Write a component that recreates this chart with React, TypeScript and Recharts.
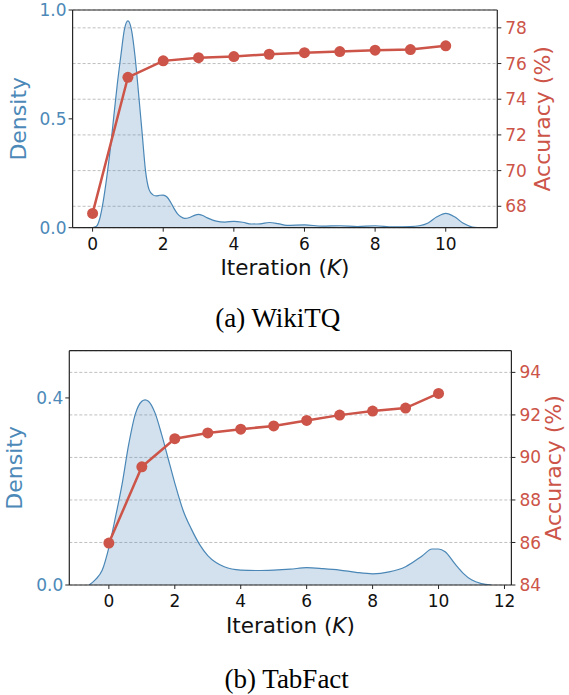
import React from 'react';
import {
  ComposedChart,
  Area,
  Line,
  XAxis,
  YAxis,
  CartesianGrid,
  ReferenceLine,
} from 'recharts';

// iterations shared by both panels
const iterations = [0, 1, 2, 3, 4, 5, 6, 7, 8, 9, 10];

// (a) WikiTQ
const wikiK = [
  0, 0.1, 0.2, 0.3, 0.4, 0.5, 0.6, 0.7, 0.8, 0.9, 1, 1.1, 1.2, 1.3, 1.4, 1.5, 1.6, 1.7, 1.8, 1.9,
  2, 2.1, 2.2, 2.3, 2.4, 2.5, 2.6, 2.75, 2.9, 3, 3.1, 3.25, 3.5, 3.75, 4, 4.25, 4.5, 4.75, 5,
  5.25, 5.5, 6, 6.5, 7, 7.5, 8, 8.5, 9, 9.25, 9.5, 9.75, 10, 10.25, 10.5, 10.75, 10.9,
];
const wikiDensity = [
  0, 0.005, 0.04, 0.12, 0.23, 0.36, 0.51, 0.66, 0.79, 0.91, 0.95, 0.91, 0.79, 0.62, 0.44, 0.26,
  0.175, 0.152, 0.146, 0.149, 0.15, 0.142, 0.12, 0.09, 0.065, 0.05, 0.043, 0.047, 0.058, 0.061,
  0.057, 0.045, 0.03, 0.026, 0.029, 0.025, 0.017, 0.018, 0.024, 0.019, 0.011, 0.013, 0.007,
  0.009, 0.005, 0.009, 0.004, 0.005, 0.009, 0.022, 0.05, 0.066, 0.05, 0.02, 0.003, 0,
];
const wikiAccuracy = [67.6, 75.23, 76.15, 76.33, 76.39, 76.52, 76.61, 76.67, 76.75, 76.78, 76.99];
const wikiAccTicks = [68, 70, 72, 74, 76, 78];
const wikiDensTicks = [0, 0.5, 1.0];
const wikiXTicks = [0, 2, 4, 6, 8, 10];

// (b) TabFact
const tabK = [
  -0.6, -0.4, -0.2, 0, 0.2, 0.4, 0.6, 0.8, 1, 1.1, 1.2, 1.4, 1.6, 1.8, 2, 2.25, 2.5, 2.75, 3,
  3.25, 3.5, 4, 4.5, 5, 5.5, 6, 6.5, 7, 7.5, 8, 8.5, 9, 9.5, 9.8, 10, 10.2, 10.5, 10.75, 11,
  11.3, 11.6,
];
const tabDensity = [
  0, 0.012, 0.032, 0.08, 0.145, 0.215, 0.3, 0.365, 0.393, 0.396, 0.393, 0.368, 0.322, 0.27,
  0.218, 0.16, 0.12, 0.087, 0.063, 0.048, 0.039, 0.032, 0.031, 0.032, 0.034, 0.037, 0.035,
  0.032, 0.027, 0.024, 0.028, 0.039, 0.062, 0.077, 0.077, 0.071, 0.045, 0.025, 0.011, 0.003, 0,
];
const tabAccuracy = [85.97, 89.56, 90.88, 91.15, 91.33, 91.48, 91.74, 91.99, 92.18, 92.32, 93.01];
const tabAccTicks = [84, 86, 88, 90, 92, 94];
const tabDensTicks = [0, 0.4];
const tabXTicks = [0, 2, 4, 6, 8, 10, 12];

const BLUE = '#4c89b8';
const RED = '#cc5448';
const SPINE = '#262626';
const FONT = '"DejaVu Sans", sans-serif';

type Row = { k: number; density?: number; acc?: number };

function buildRows(ks: number[], dens: number[], accs: number[]): Row[] {
  const map = new Map<number, Row>();
  ks.forEach((k, i) => map.set(k, { k, density: dens[i] }));
  iterations.forEach((k, i) => {
    const r = map.get(k) ?? { k };
    r.acc = accs[i];
    map.set(k, r);
  });
  return [...map.values()].sort((a, b) => a.k - b.k);
}

interface PanelProps {
  top: number;
  rows: Row[];
  xDomain: [number, number];
  xTicks: number[];
  densDomain: [number, number];
  densTicks: number[];
  accDomain: [number, number];
  accTicks: number[];
  margin: { top: number; left: number; right: number; bottom: number };
  leftW: number;
  rightW: number;
  xH: number;
}

const Panel: React.FC<PanelProps> = (p) => {
  const tickStyle = { fontSize: 17, fontFamily: FONT };
  return (
    <div style={{ position: 'absolute', left: 0, top: p.top }}>
      <ComposedChart width={569} height={300} data={p.rows} margin={p.margin}>
        <CartesianGrid
          yAxisId="right"
          vertical={false}
          stroke="#b8b8b8"
          strokeWidth={0.9}
          strokeDasharray="3 2"
        />
        <XAxis
          type="number"
          dataKey="k"
          domain={p.xDomain}
          ticks={p.xTicks}
          interval={0}
          allowDataOverflow
          height={p.xH}
          axisLine={{ stroke: SPINE, strokeWidth: 1.2 }}
          tickLine={{ stroke: SPINE }}
          tickSize={4}
          tickMargin={6}
          tick={{ ...tickStyle, fill: '#111' }}
        />
        <YAxis
          yAxisId="left"
          orientation="left"
          domain={p.densDomain}
          ticks={p.densTicks}
          interval={0}
          allowDataOverflow
          width={p.leftW}
          tickFormatter={(v: number) => v.toFixed(1)}
          axisLine={{ stroke: SPINE, strokeWidth: 1.2 }}
          tickLine={{ stroke: SPINE }}
          tickSize={4}
          tickMargin={2}
          tick={{ ...tickStyle, fill: BLUE }}
        />
        <YAxis
          yAxisId="right"
          orientation="right"
          domain={p.accDomain}
          ticks={p.accTicks}
          interval={0}
          allowDataOverflow
          width={p.rightW}
          axisLine={{ stroke: SPINE, strokeWidth: 1.2 }}
          tickLine={{ stroke: SPINE }}
          tickSize={4}
          tickMargin={4}
          tick={{ ...tickStyle, fill: RED }}
        />
        <ReferenceLine yAxisId="left" y={p.densDomain[1]} stroke={SPINE} strokeWidth={1.2} />
        <Area
          yAxisId="left"
          type="monotone"
          dataKey="density"
          stroke="#4a87b7"
          strokeWidth={1.2}
          fill="#4a87b7"
          fillOpacity={0.25}
          connectNulls
          dot={false}
          activeDot={false}
          isAnimationActive={false}
        />
        <Line
          yAxisId="right"
          type="linear"
          dataKey="acc"
          stroke={RED}
          strokeWidth={2.5}
          connectNulls
          dot={{ r: 5.5, fill: RED, stroke: RED, strokeWidth: 0 }}
          activeDot={false}
          isAnimationActive={false}
        />
      </ComposedChart>
    </div>
  );
};

const VTitle = ({ x, y, text, color }: { x: number; y: number; text: string; color: string }) => (
  <text
    x={x}
    y={y}
    transform={`rotate(-90 ${x} ${y})`}
    textAnchor="middle"
    dominantBaseline="central"
    fill={color}
    fontSize={22}
    fontFamily={FONT}
  >
    {text}
  </text>
);

const XTitle = ({ x, y }: { x: number; y: number }) => (
  <text x={x} y={y} textAnchor="middle" fill="#111" fontSize={21.5} fontFamily={FONT}>
    Iteration (<tspan fontStyle="italic">K</tspan>)
  </text>
);

export default function App() {
  const wikiRows = buildRows(wikiK, wikiDensity, wikiAccuracy);
  const tabRows = buildRows(tabK, tabDensity, tabAccuracy);

  return (
    <div
      style={{
        position: 'absolute',
        left: 0,
        top: 0,
        width: 569,
        height: 695,
        background: '#fff',
        overflow: 'hidden',
      }}
    >
      <Panel
        top={0}
        rows={wikiRows}
        xDomain={[-0.566, 11.46]}
        xTicks={wikiXTicks}
        densDomain={[0, 1]}
        densTicks={wikiDensTicks}
        accDomain={[66.8, 79.0]}
        accTicks={wikiAccTicks}
        margin={{ top: 10, left: 0, right: 0, bottom: 0 }}
        leftW={72.6}
        rightW={71.7}
        xH={72.3}
      />
      <Panel
        top={340}
        rows={tabRows}
        xDomain={[-1.2, 12.21]}
        xTicks={tabXTicks}
        densDomain={[0, 0.501]}
        densTicks={tabDensTicks}
        accDomain={[84, 95.02]}
        accTicks={tabAccTicks}
        margin={{ top: 10.7, left: 0, right: 0, bottom: 0 }}
        leftW={69.3}
        rightW={57.6}
        xH={55}
      />
      <svg
        width={569}
        height={695}
        style={{ position: 'absolute', left: 0, top: 0, pointerEvents: 'none' }}
      >
        <VTitle x={18.9} y={118.8} text="Density" color={BLUE} />
        <VTitle x={542.6} y={118.8} text="Accuracy (%)" color={RED} />
        <XTitle x={285} y={274.5} />
        <text
          x={277.8}
          y={326.7}
          textAnchor="middle"
          fill="#000"
          fontSize={27}
          fontFamily='"Liberation Serif", serif'
        >
          (a) WikiTQ
        </text>

        <VTitle x={14.5} y={467.9} text="Density" color={BLUE} />
        <VTitle x={554} y={467.9} text="Accuracy (%)" color={RED} />
        <XTitle x={290.4} y={632.8} />
        <text
          x={286.7}
          y={687.7}
          textAnchor="middle"
          fill="#000"
          fontSize={27}
          fontFamily='"Liberation Serif", serif'
        >
          (b) TabFact
        </text>
      </svg>
    </div>
  );
}
